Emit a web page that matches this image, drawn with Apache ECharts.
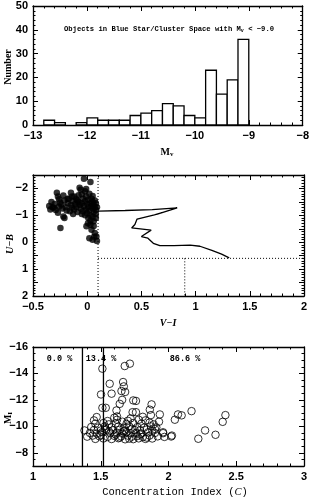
<!DOCTYPE html>
<html><head><meta charset="utf-8">
<script src="https://cdn.jsdelivr.net/npm/echarts@6/dist/echarts.min.js"></script>
<style>html,body{margin:0;padding:0;background:#fff}#c{width:312px;height:502px}</style>
</head><body><div id="c"></div>
<script>
// ---- Panel 1: histogram of M_V ----
const histBinLo = [-12.8,-12.6,-12.4,-12.2,-12.0,-11.8,-11.6,-11.4,-11.2,-11.0,-10.8,-10.6,-10.4,-10.2,-10.0,-9.8,-9.6,-9.4,-9.2];
const histCounts = [2,1,0,1,3,2,2,2,4,5,6,9,8,4,3,23,13,19,36];
const histBinWidth = 0.2;

// ---- Panel 2: U-B vs V-I ----
const colorPoints = [
[-0.35,-1.35],[-0.34,-1.22],[-0.33,-1.5],[-0.31,-1.28],[-0.30,-1.42],[-0.29,-1.2],[-0.28,-1.84],[-0.27,-1.1],
[-0.26,-1.32],[-0.25,-1.48],[-0.247,-0.53],[-0.24,-1.4],[-0.23,-1.25],[-0.22,-1.74],[-0.22,-0.96],[-0.21,-1.55],
[-0.20,-1.3],[-0.19,-1.18],[-0.18,-1.45],[-0.17,-1.62],[-0.16,-1.15],[-0.15,-1.84],[-0.15,-1.38],[-0.14,-1.28],
[-0.13,-1.52],[-0.12,-1.7],[-0.12,-1.22],[-0.11,-1.42],[-0.10,-1.32],[-0.10,-1.6],[-0.09,-1.12],[-0.08,-1.5],
[-0.07,-2.03],[-0.07,-1.38],[-0.06,-1.25],[-0.05,-1.78],[-0.05,-1.45],[-0.04,-1.62],[-0.04,-1.15],[-0.03,-2.36],
[-0.03,-1.35],[-0.02,-1.9],[-0.02,-1.52],[-0.01,-1.22],[-0.01,-1.7],[0.00,-1.42],[0.00,-1.08],[0.01,-1.3],
[0.01,-1.58],[0.02,-1.8],[0.02,-1.18],[0.03,-2.24],[0.03,-1.45],[0.03,-1.0],[0.04,-1.35],[0.04,-1.62],
[0.05,-1.25],[0.05,-1.5],[0.06,-1.12],[0.06,-1.4],[0.07,-1.3],[0.07,-1.55],[0.08,-1.2],[0.08,-1.45],
[-0.08,-1.75],[-0.06,-1.95],[-0.09,-1.55],[0.01,-0.9],[0.007,-0.71],[-0.007,-0.59],[0.04,-0.46],[0.07,-0.34],
[0.085,-0.21],[0.05,-0.09],[0.02,-0.15],[0.06,-0.6],[0.03,-0.8],[0.08,-0.9],[0.09,-0.05],[0.065,-0.2],
[-0.02,-1.0],[-0.05,-1.05],[-0.13,-1.05],[-0.18,-1.62],[-0.26,-1.6],[-0.32,-1.3],[-0.21,-0.9],[-0.27,-1.7],
[-0.14,-1.7],[-0.01,-1.98],[0.05,-1.72],[0.08,-1.05],[0.09,-1.3],[0.05,-0.95],[0.03,-0.65],[0.06,-0.78]
];
const trackPoints = [
[0.10,-1.16],[0.35,-1.18],[0.60,-1.21],[0.83,-1.28],[0.64,-1.04],[0.69,-1.10],[0.62,-1.02],[0.46,-0.86],
[0.44,-0.66],[0.41,-0.53],[0.59,-0.45],[0.50,-0.21],[0.56,-0.15],[0.61,0.04],[0.67,0.13],[0.80,0.13],
[0.95,0.11],[1.04,0.15],[1.15,0.30],[1.24,0.44],[1.31,0.58]
];
const cutLines = [
  [[0.1,-2.5],[0.1,2]],
  [[0.1,0.6],[2,0.6]],
  [[0.9,0.6],[0.9,2]]
];

// ---- Panel 3: M_I vs concentration index ----
const concPoints = [
[1.512,-14.36],[1.677,-14.56],[1.715,-14.74],[1.566,-13.22],[1.665,-13.35],[1.67,-13.02],[1.653,-12.67],[1.68,-12.6],
[1.502,-12.41],[1.658,-12.0],[1.64,-11.7],[1.74,-11.96],[1.76,-11.92],[1.512,-11.4],[1.537,-11.4],[1.616,-11.2],
[1.735,-11.07],[1.76,-11.07],[1.875,-11.66],[1.862,-11.26],[1.936,-10.9],[2.07,-10.9],[2.097,-10.83],[2.047,-10.5],
[2.17,-11.15],[2.27,-9.69],[2.22,-9.06],[2.347,-9.36],[2.40,-10.34],[2.42,-10.85],[1.96,-9.48],[2.02,-9.23],
[2.025,-9.3],[1.62,-10.75],[1.58,-12.47],
[1.46,-9.05],[1.52,-9.08],[1.58,-9.04],[1.63,-9.1],[1.68,-9.02],[1.71,-9.07],[1.74,-9.03],[1.78,-9.09],[1.83,-9.05],[1.88,-9.08],
[1.40,-9.22],[1.44,-9.3],[1.49,-9.25],[1.55,-9.2],[1.60,-9.28],[1.65,-9.24],[1.70,-9.3],[1.73,-9.22],[1.77,-9.27],[1.81,-9.2],[1.86,-9.3],[1.92,-9.24],[1.97,-9.2],
[1.42,-9.5],[1.47,-9.45],[1.51,-9.55],[1.57,-9.48],[1.62,-9.52],[1.66,-9.45],[1.69,-9.55],[1.72,-9.48],[1.76,-9.5],[1.80,-9.45],[1.85,-9.55],[1.90,-9.5],
[1.38,-9.69],[1.45,-9.72],[1.50,-9.68],[1.54,-9.75],[1.59,-9.7],[1.64,-9.74],[1.68,-9.68],[1.75,-9.72],[1.79,-9.7],[1.84,-9.76],[1.88,-9.68],[1.96,-9.55],
[1.43,-9.95],[1.48,-9.9],[1.53,-10.0],[1.58,-9.92],[1.63,-9.98],[1.67,-9.9],[1.71,-10.0],[1.77,-9.94],[1.82,-9.9],[1.87,-10.0],[1.91,-9.92],
[1.46,-10.2],[1.52,-10.25],[1.56,-10.15],[1.61,-10.22],[1.69,-10.18],[1.74,-10.25],[1.80,-10.2],[1.86,-10.28],[1.89,-10.15],
[1.45,-10.45],[1.55,-10.4],[1.62,-10.5],[1.70,-10.42],[1.78,-10.5],[1.83,-10.45],[1.93,-10.35],
[1.47,-10.7],[1.60,-10.65],[1.81,-10.72],[1.87,-10.85],[1.72,-10.6],[1.66,-10.35],
[1.50,-9.35],[1.56,-9.62],[1.61,-9.38],[1.67,-9.62],[1.73,-9.82],[1.79,-9.38],[1.84,-9.15],[1.90,-9.8],[1.64,-9.15],[1.53,-9.82]
];
const concCuts = [1.365, 1.52];
const concPercents = ['0.0 %', '13.4 %', '86.6 %'];

const MINUS = '\u2212';
const fmt = v => String(v).replace('-', MINUS);
const tickFont = {fontFamily:'Liberation Sans', fontWeight:'bold', fontSize:11, color:'#000'};

function mkX(gi, min, max, interval, split, showLabel, pos) {
  return {
    type:'value', gridIndex:gi, min:min, max:max, interval:interval, position:pos,
    axisLine:{show:true, onZero:false, lineStyle:{color:'#000', width:1.3}},
    axisTick:{show:true, inside:true, length:5, lineStyle:{color:'#000', width:1}},
    minorTick:{show:true, splitNumber:split, length:2.5, lineStyle:{color:'#000', width:1}},
    splitLine:{show:false},
    axisLabel:{show:showLabel, margin:5, formatter:fmt, ...tickFont}
  };
}
function mkY(gi, min, max, interval, split, showLabel, pos, inverse, step) {
  return {
    type:'value', gridIndex:gi, min:min, max:max, interval:interval, position:pos, inverse:inverse,
    axisLine:{show:true, onZero:false, lineStyle:{color:'#000', width:1.3}},
    axisTick:{show:true, inside:true, length:5, lineStyle:{color:'#000', width:1}},
    minorTick:{show:true, splitNumber:split, length:2.5, lineStyle:{color:'#000', width:1}},
    splitLine:{show:false},
    axisLabel:{show:showLabel, margin:5, ...tickFont,
      formatter: v => {
        const r = v / step;
        if (Math.abs(r - Math.round(r)) > 1e-6) return '';
        return fmt(Math.round(v*100)/100);
      }}
  };
}

const chart = echarts.init(document.getElementById('c'), null, {renderer:'canvas'});
const option = {
  animation:false,
  backgroundColor:'#fff',
  grid:[
    {left:33, top:6, width:271, height:119},
    {left:33, top:175, width:271, height:121},
    {left:33, top:347, width:271, height:119}
  ],
  xAxis:[
    mkX(0,-13,-8,1,5,true,'bottom'),
    mkX(0,-13,-8,1,5,false,'top'),
    mkX(1,-0.5,2,0.5,5,true,'bottom'),
    mkX(1,-0.5,2,0.5,5,false,'top'),
    mkX(2,1,3,0.5,5,true,'bottom'),
    mkX(2,1,3,0.5,5,false,'top')
  ],
  yAxis:[
    mkY(0,0,50,10,5,true,'left',false,10),
    mkY(0,0,50,10,5,false,'right',false,10),
    mkY(1,-2.5,2,0.5,5,true,'left',true,1),
    mkY(1,-2.5,2,0.5,5,false,'right',true,1),
    mkY(2,-16,-7,2,4,true,'left',true,2),
    mkY(2,-16,-7,2,4,false,'right',true,2)
  ],
  series:[
    {
      type:'custom', xAxisIndex:0, yAxisIndex:0,
      data: histBinLo.map((lo,i)=>[lo, lo+histBinWidth, histCounts[i]]),
      encode:{x:[0,1], y:2},
      renderItem:function(params, api){
        const c = api.value(2);
        if (c <= 0) return null;
        const p0 = api.coord([api.value(0), 0]);
        const p1 = api.coord([api.value(1), c]);
        return {type:'rect', shape:{x:p0[0], y:p1[1], width:p1[0]-p0[0], height:p0[1]-p1[1]},
                style:{fill:'#fff', stroke:'#000', lineWidth:1.3}};
      }
    },
    {
      type:'scatter', xAxisIndex:2, yAxisIndex:2, data:colorPoints, symbol:'circle', symbolSize:6.5,
      itemStyle:{color:'#000'}, z:3
    },
    {
      type:'line', xAxisIndex:2, yAxisIndex:2, data:trackPoints, showSymbol:false, symbol:'none',
      lineStyle:{color:'#000', width:1.3}, z:4
    },
    ...cutLines.map(seg => ({
      type:'line', xAxisIndex:2, yAxisIndex:2, data:seg, showSymbol:false, symbol:'none',
      lineStyle:{color:'#000', width:1, type:[1,2]}, z:2
    })),
    {
      type:'scatter', xAxisIndex:4, yAxisIndex:4, data:concPoints, symbol:'circle', symbolSize:7.5,
      itemStyle:{color:'rgba(255,255,255,0)', borderColor:'#000', borderWidth:1}, z:3
    },
    ...concCuts.map(c => ({
      type:'line', xAxisIndex:4, yAxisIndex:4, data:[[c,-16],[c,-7]], showSymbol:false, symbol:'none',
      lineStyle:{color:'#000', width:1.3}, z:2
    }))
  ],
  graphic:[
    {type:'text', x:169, y:29, style:{
      text:'{a|Objects in Blue Star/Cluster Space with M}{s|v}{a| < \u22129.0}',
      align:'center', verticalAlign:'middle',
      rich:{a:{fontFamily:'Liberation Mono', fontWeight:'bold', fontSize:7.2, fill:'#000'},
            s:{fontFamily:'Liberation Mono', fontWeight:'bold', fontSize:5, fill:'#000', padding:[4,0,0,0]}}
    }},
    {type:'text', x:8, y:67, rotation:Math.PI/2, style:{
      text:'Number', align:'center', verticalAlign:'middle',
      font:'bold 10px "Liberation Serif"', fill:'#000'}},
    {type:'text', x:167, y:152, style:{
      text:'{a|M}{s|v}', align:'center', verticalAlign:'middle',
      rich:{a:{fontFamily:'Liberation Serif', fontWeight:'bold', fontSize:10, fill:'#000'},
            s:{fontFamily:'Liberation Serif', fontWeight:'bold', fontSize:7, fill:'#000', padding:[5,0,0,0]}}}},
    {type:'text', x:10, y:244, rotation:Math.PI/2, style:{
      text:'U\u2212B', align:'center', verticalAlign:'middle',
      font:'italic bold 10px "Liberation Serif"', fill:'#000'}},
    {type:'text', x:168, y:323, style:{
      text:'V\u2212I', align:'center', verticalAlign:'middle',
      font:'italic bold 10px "Liberation Serif"', fill:'#000'}},
    {type:'text', x:8, y:418, rotation:Math.PI/2, style:{
      text:'{a|M}{s|I}', align:'center', verticalAlign:'middle',
      rich:{a:{fontFamily:'Liberation Serif', fontWeight:'bold', fontSize:10, fill:'#000'},
            s:{fontFamily:'Liberation Serif', fontWeight:'bold', fontSize:7, fill:'#000', padding:[5,0,0,0]}}}},
    {type:'text', x:175, y:492, style:{
      text:'{a|Concentration Index (}{i|C}{a|)}', align:'center', verticalAlign:'middle',
      rich:{a:{fontFamily:'Liberation Mono', fontSize:10.5, fill:'#000'},
            i:{fontFamily:'Liberation Serif', fontStyle:'italic', fontSize:10.5, fill:'#000'}}}},
    {type:'text', x:59.5, y:359, style:{text:concPercents[0], align:'center', verticalAlign:'middle',
      font:'bold 8.5px "Liberation Mono"', fill:'#000'}},
    {type:'text', x:101, y:359, style:{text:concPercents[1], align:'center', verticalAlign:'middle',
      font:'bold 8.5px "Liberation Mono"', fill:'#000'}},
    {type:'text', x:185, y:359, style:{text:concPercents[2], align:'center', verticalAlign:'middle',
      font:'bold 8.5px "Liberation Mono"', fill:'#000'}}
  ]
};
chart.setOption(option);
</script>
</body></html>
